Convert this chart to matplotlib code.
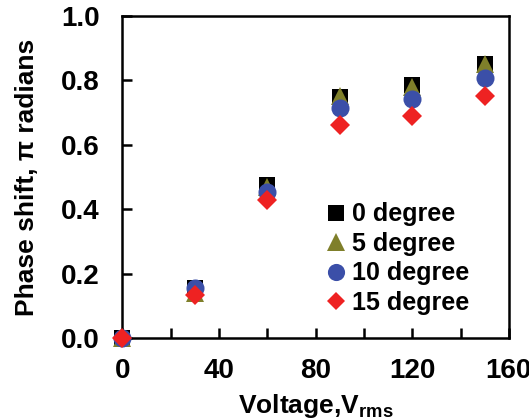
import numpy as np
import matplotlib
matplotlib.use("Agg")
import matplotlib.pyplot as plt
from matplotlib.ticker import MultipleLocator

plt.rcParams['font.family'] = ['Liberation Sans', 'DejaVu Sans']
plt.rcParams['font.weight'] = 'bold'
plt.rcParams['mathtext.fontset'] = 'custom'
plt.rcParams['mathtext.rm'] = 'Liberation Sans:bold'
plt.rcParams['mathtext.it'] = 'Liberation Sans:bold'
plt.rcParams['mathtext.bf'] = 'Liberation Sans:bold'

# Données
voltage = [0, 30, 60, 90, 120, 150]
deg0 = [0.0, 0.155, 0.475, 0.748, 0.785, 0.852]
deg5 = [0.0, 0.14, 0.47, 0.75, 0.78, 0.85]
deg10 = [0.0, 0.155, 0.455, 0.715, 0.742, 0.806]
deg15 = [0.0, 0.135, 0.43, 0.66, 0.69, 0.752]

series = [
    ('0 degree', deg0, 's', '#000000', 12),
    ('5 degree', deg5, '^', '#7f7f2a', 13),
    ('10 degree', deg10, 'o', '#3b4fa8', 13),
    ('15 degree', deg15, 'D', '#ee2222', 10),
]

fig = plt.figure(figsize=(5.29, 4.2), dpi=100)
ax = fig.add_axes([0.231, 0.195, 0.731, 0.767])

for label, vals, mk, col, ms in series:
    ax.plot(voltage, vals, linestyle='none', marker=mk, color=col,
            markersize=ms, markeredgewidth=0, label=label, clip_on=False, zorder=3)

ax.set_xlim(0, 160)
ax.set_ylim(0, 1.0)
ax.xaxis.set_major_locator(MultipleLocator(40))
ax.xaxis.set_minor_locator(MultipleLocator(20))
ax.yaxis.set_major_locator(MultipleLocator(0.2))
ax.yaxis.set_major_formatter(matplotlib.ticker.FormatStrFormatter('%.1f'))
ax.tick_params(which='both', direction='in', length=7, width=1.8, labelsize=20)
ax.tick_params(axis='y', pad=16)
ax.tick_params(axis='x', pad=14)

for sp in ax.spines.values():
    sp.set_linewidth(1.8)

ax.set_xlabel('Voltage,V$_{\\rm rms}$', fontsize=19, fontweight='bold', labelpad=6)
ax.set_ylabel('Phase shift, \u03c0 radians', fontsize=19, fontweight='bold', labelpad=16)

ax.legend(loc='upper left', bbox_to_anchor=(0.5, 0.46), frameon=False,
          fontsize=18, handlelength=0.6, handletextpad=0.35, labelspacing=0.22,
          borderpad=0, markerscale=0.95)

fig.savefig('out.png', dpi=100)
